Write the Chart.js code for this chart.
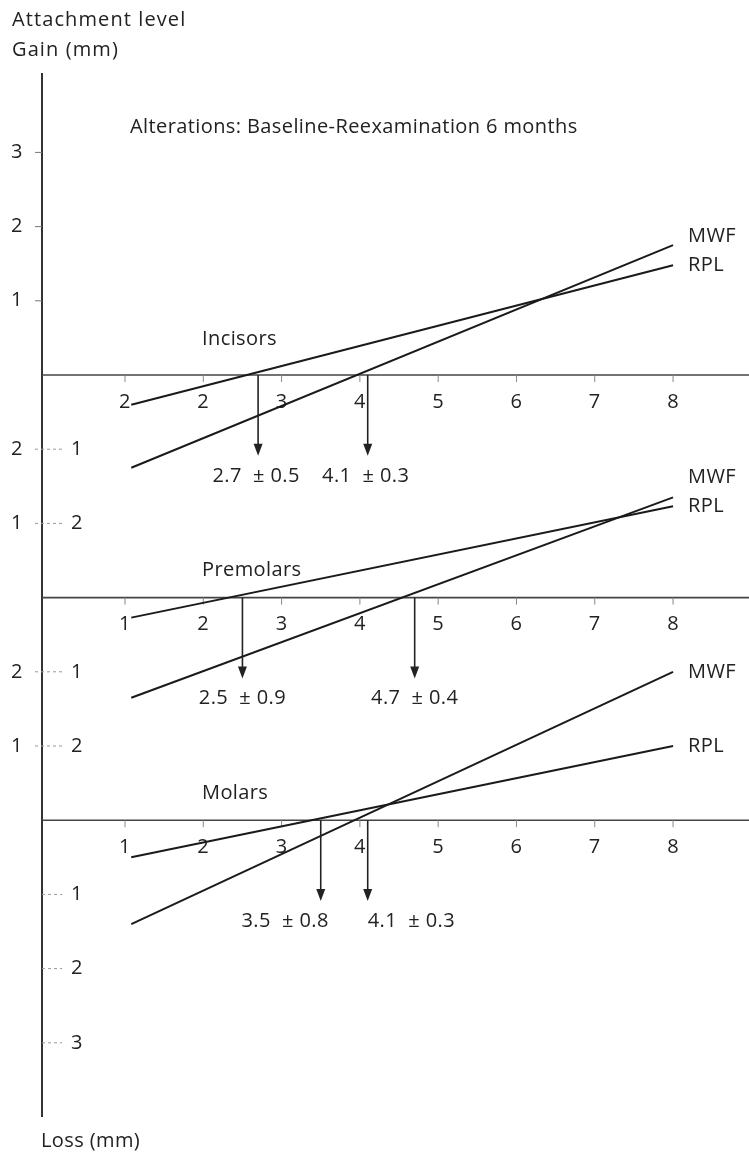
<!DOCTYPE html>
<html>
<head>
<meta charset="utf-8">
<script src="https://cdn.jsdelivr.net/npm/chart.js@4.4.1/dist/chart.umd.min.js"></script>
<style>
  html, body { margin: 0; padding: 0; background: #fff; }
  #wrap { position: relative; width: 749px; height: 1153px; }
</style>
</head>
<body>
<div id="wrap"><canvas id="chart" width="749" height="1153"></canvas></div>
<script>
// --- values ---
const panels = ['Incisors', 'Premolars', 'Molars'];
const panelBase = [0, -3, -6];            // zero line of each panel on the shared mm scale
const lineX = [1.08, 8.0];                // regression lines run from / to (initial PD, mm)
const mwfY = [[-1.25, 1.75], [-1.35, 1.35], [-1.4, 2.0]];
const rplY = [[-0.4, 1.48], [-0.27, 1.23], [-0.5, 1.0]];
const arrowMean = [[2.7, 4.1], [2.5, 4.7], [3.5, 4.1]];
const arrowSd = [[0.5, 0.3], [0.9, 0.4], [0.8, 0.3]];
const xTicks = [1, 2, 3, 4, 5, 6, 7, 8];
const xTickLabels = [
    ['2', '2', '3', '4', '5', '6', '7', '8'],
    ['1', '2', '3', '4', '5', '6', '7', '8'],
    ['1', '2', '3', '4', '5', '6', '7', '8']
];
const gainTicks = [3, 2, 1];
// shared left axis: position, gain label of next panel, loss label of current panel
const sideTickPos = [-1, -2, -4, -5, -7, -8, -9];
const sideTickLeft = ['2', '1', '2', '1', '', '', ''];
const sideTickRight = ['1', '2', '1', '2', '1', '2', '3'];

const FONT = '20px "Open Sans", "Noto Sans", sans-serif';
const INK = '#222';

// build line datasets from the arrays
const datasets = [];
panels.forEach((p, i) => {
    [['MWF', mwfY[i]], ['RPL', rplY[i]]].forEach(([name, ys]) => {
        datasets.push({
            label: p + ' ' + name,
            data: [
                { x: lineX[0], y: panelBase[i] + ys[0] },
                { x: lineX[1], y: panelBase[i] + ys[1] }
            ],
            showLine: true,
            borderColor: '#1a1a1a',
            borderWidth: 2,
            pointRadius: 0,
            fill: false
        });
    });
});

function setText(ctx, spacing) {
    ctx.font = FONT;
    ctx.fillStyle = INK;
    ctx.textBaseline = 'middle';
    ctx.letterSpacing = spacing || '0.4px';
}

// --- custom drawing: axis, panel zero lines, arrows, texts ---
const figurePlugin = {
    id: 'figure',
    beforeDatasetsDraw(chart) {
        const { ctx, chartArea, scales: { x, y } } = chart;
        ctx.save();
        // vertical axis
        ctx.strokeStyle = '#333';
        ctx.lineWidth = 2;
        ctx.beginPath();
        ctx.moveTo(chartArea.left, chartArea.top);
        ctx.lineTo(chartArea.left, chartArea.bottom);
        ctx.stroke();

        setText(ctx);

        // gain ticks above the first panel
        gainTicks.forEach(v => {
            const py = y.getPixelForValue(v);
            ctx.strokeStyle = '#777';
            ctx.lineWidth = 1;
            ctx.beginPath();
            ctx.moveTo(chartArea.left - 7, py);
            ctx.lineTo(chartArea.left, py);
            ctx.stroke();
            ctx.textAlign = 'center';
            ctx.fillText(String(v), 17, py);
        });

        // dotted double ticks between / below panels
        sideTickPos.forEach((v, i) => {
            const py = y.getPixelForValue(v);
            ctx.strokeStyle = '#999';
            ctx.lineWidth = 1;
            ctx.setLineDash([3, 3]);
            ctx.beginPath();
            ctx.moveTo(sideTickLeft[i] ? chartArea.left - 7 : chartArea.left, py);
            ctx.lineTo(chartArea.left + 20, py);
            ctx.stroke();
            ctx.setLineDash([]);
            ctx.textAlign = 'center';
            if (sideTickLeft[i]) ctx.fillText(sideTickLeft[i], 17, py);
            ctx.fillText(sideTickRight[i], 77, py);
        });

        // panel zero lines, ticks and tick labels
        panels.forEach((name, i) => {
            const py = y.getPixelForValue(panelBase[i]);
            ctx.strokeStyle = '#444';
            ctx.lineWidth = 1.6;
            ctx.beginPath();
            ctx.moveTo(chartArea.left, py);
            ctx.lineTo(chartArea.right, py);
            ctx.stroke();
            xTicks.forEach((t, k) => {
                const px = x.getPixelForValue(t);
                ctx.strokeStyle = '#888';
                ctx.lineWidth = 1;
                ctx.beginPath();
                ctx.moveTo(px, py);
                ctx.lineTo(px, py + 7);
                ctx.stroke();
                ctx.textAlign = 'center';
                ctx.fillText(xTickLabels[i][k], px, py + 27);
            });
            // panel title
            ctx.textAlign = 'left';
            const lift = i === 0 ? 36 : 27;
            ctx.fillText(name, 202, py - lift);
        });
        ctx.restore();
    },
    afterDatasetsDraw(chart) {
        const { ctx, scales: { x, y } } = chart;
        ctx.save();
        setText(ctx);

        const labelAlign = [['center', 'center'], ['center', 'center'], ['right', 'left']];
        const labelShift = [[-2, -2], [0, 0], [8, 0]];
        panels.forEach((name, i) => {
            const base = panelBase[i];
            const py0 = y.getPixelForValue(base);
            const tip = y.getPixelForValue(base - 1.09);
            arrowMean[i].forEach((m, k) => {
                const px = x.getPixelForValue(m);
                ctx.strokeStyle = '#222';
                ctx.lineWidth = 1.6;
                ctx.beginPath();
                ctx.moveTo(px, py0);
                ctx.lineTo(px, tip - 10);
                ctx.stroke();
                ctx.beginPath();
                ctx.moveTo(px - 4.5, tip - 12);
                ctx.lineTo(px + 4.5, tip - 12);
                ctx.lineTo(px, tip);
                ctx.closePath();
                ctx.fill();
                ctx.textAlign = labelAlign[i][k];
                ctx.fillText(m.toFixed(1) + '  \u00b1 ' + arrowSd[i][k].toFixed(1), px + labelShift[i][k], tip + 20);
            });

            // series names at the right end of the lines
            const endX = x.getPixelForValue(lineX[1]) + 15;
            const rplEnd = y.getPixelForValue(base + rplY[i][1]);
            const mwfEnd = Math.min(y.getPixelForValue(base + mwfY[i][1]), rplEnd - 29);
            ctx.textAlign = 'left';
            ctx.fillText('MWF', endX, mwfEnd);
            ctx.fillText('RPL', endX, rplEnd);
        });

        // headings
        ctx.textAlign = 'left';
        ctx.fillText('Loss (mm)', 41, 1141);
        ctx.fillText('Alterations: Baseline-Reexamination 6 months', 130, 127);
        setText(ctx, '1.1px');
        ctx.fillText('Attachment level', 12, 20);
        ctx.fillText('Gain (mm)', 12, 50);
        ctx.restore();
    }
};

new Chart(document.getElementById('chart'), {
    type: 'scatter',
    data: { datasets: datasets },
    options: {
        responsive: false,
        animation: false,
        layout: { padding: { left: 42, top: 73, right: 0, bottom: 36 } },
        plugins: { legend: { display: false }, tooltip: { enabled: false } },
        scales: {
            x: { type: 'linear', min: -0.06, max: 8.97, display: false },
            y: { type: 'linear', min: -10, max: 4.07, display: false }
        }
    },
    plugins: [figurePlugin]
});
</script>
</body>
</html>
